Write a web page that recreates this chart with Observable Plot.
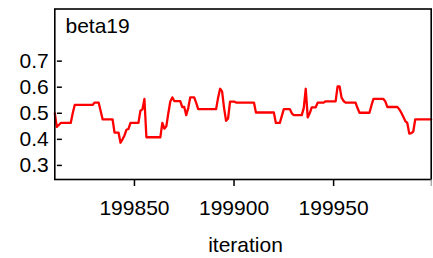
<!DOCTYPE html>
<html>
<head>
<meta charset="utf-8">
<script src="https://cdn.jsdelivr.net/npm/d3@7"></script>
<script src="https://cdn.jsdelivr.net/npm/@observablehq/plot@0.6"></script>
<style>
  html, body { margin: 0; padding: 0; background: #fff; }
  #chart svg { display: block; }
</style>
</head>
<body>
<div id="chart"></div>
<script>
const title = "beta19";
const xLabel = "iteration";
const firstIteration = 199810;
const lastIteration = 199999;
const xTicks = [199850, 199900, 199950];
const yTicks = [0.3, 0.4, 0.5, 0.6, 0.7];
const values = [
  0.50, 0.448, 0.455, 0.463, 0.463, 0.463, 0.463, 0.463, 0.463, 0.50,
  0.532, 0.532, 0.532, 0.532, 0.532, 0.532, 0.532, 0.532, 0.532, 0.532,
  0.541, 0.541, 0.541, 0.51, 0.477, 0.477, 0.477, 0.477, 0.477, 0.477,
  0.426, 0.426, 0.426, 0.387, 0.40, 0.415, 0.437, 0.44, 0.463, 0.463,
  0.463, 0.463, 0.463, 0.51, 0.515, 0.555, 0.408, 0.408, 0.408, 0.408,
  0.408, 0.408, 0.408, 0.408, 0.463, 0.441, 0.45, 0.50, 0.545, 0.561,
  0.547, 0.547, 0.547, 0.547, 0.524, 0.524, 0.493, 0.52, 0.561, 0.561,
  0.561, 0.54, 0.516, 0.516, 0.516, 0.516, 0.516, 0.516, 0.516, 0.516,
  0.516, 0.516, 0.56, 0.594, 0.584, 0.52, 0.471, 0.48, 0.545, 0.545,
  0.545, 0.541, 0.541, 0.541, 0.541, 0.541, 0.541, 0.541, 0.541, 0.541,
  0.541, 0.503, 0.503, 0.503, 0.503, 0.503, 0.503, 0.503, 0.503, 0.503,
  0.503, 0.463, 0.463, 0.463, 0.49, 0.516, 0.516, 0.516, 0.516, 0.50,
  0.493, 0.493, 0.493, 0.493, 0.493, 0.52, 0.594, 0.484, 0.50, 0.523,
  0.523, 0.523, 0.541, 0.541, 0.541, 0.541, 0.546, 0.546, 0.546, 0.546,
  0.546, 0.546, 0.603, 0.603, 0.56, 0.547, 0.541, 0.541, 0.541, 0.541,
  0.541, 0.541, 0.52, 0.502, 0.502, 0.502, 0.502, 0.502, 0.502, 0.53,
  0.555, 0.555, 0.555, 0.555, 0.555, 0.555, 0.545, 0.524, 0.524, 0.524,
  0.524, 0.524, 0.524, 0.515, 0.502, 0.487, 0.47, 0.463, 0.422, 0.424,
  0.43, 0.477, 0.477, 0.477, 0.477, 0.477, 0.477, 0.477, 0.477, 0.477
];

const data = values.map((v, i) => ({iteration: firstIteration + i, value: v}));

const chart = Plot.plot({
  width: 433,
  height: 258,
  marginLeft: 54.3,
  marginRight: 2.3,
  marginTop: 8.5,
  marginBottom: 79,
  style: {fontFamily: "'Liberation Sans', Arial, sans-serif", fontSize: "21px", color: "#000", background: "#fff"},
  x: {domain: [firstIteration, lastIteration]},
  y: {domain: [0.246, 0.9]},
  marks: [
    Plot.line(data, {x: "iteration", y: "value", stroke: "#ff0000", strokeWidth: 2.3, curve: "linear"}),
    Plot.frame({stroke: "#000", strokeWidth: 1.6}),
    Plot.axisY(yTicks, {anchor: "left", tickSize: 0, tickPadding: 6, tickFormat: d3.format(".1f"), fontSize: 21, label: null}),
    Plot.axisY(yTicks, {anchor: "left", tickSize: 5, dx: 7.6, text: null, strokeWidth: 1.5, label: null}),
    Plot.axisX(xTicks, {anchor: "bottom", tickSize: 7, tickPadding: 14, tickFormat: d => String(d), fontSize: 21, strokeWidth: 1.5, label: null}),
    Plot.axisX([lastIteration], {anchor: "bottom", tickSize: 7, text: null, stroke: "#888", label: null}),
    Plot.text([xLabel], {frameAnchor: "bottom", dx: 2.5, dy: 72.5, lineAnchor: "bottom", fontSize: 21, fill: "#000"}),
    Plot.text([title], {frameAnchor: "top-left", dx: 10.7, dy: 9.5, lineAnchor: "top", textAnchor: "start", fontSize: 21, fill: "#000"})
  ]
});
document.getElementById("chart").appendChild(chart);
</script>
</body>
</html>
